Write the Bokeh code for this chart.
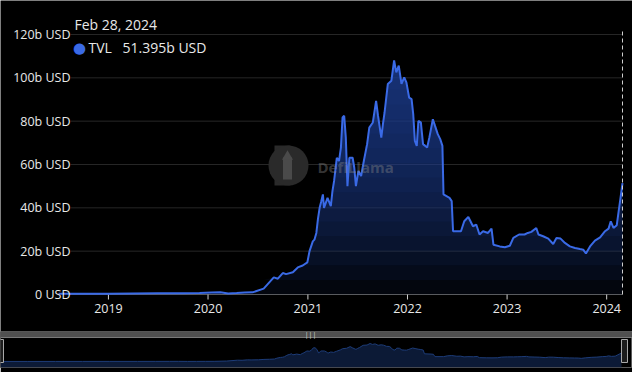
import numpy as np
import pandas as pd
from bokeh.plotting import figure
from bokeh.layouts import column
from bokeh.core.properties import value
from bokeh.models import Range1d, Label, InlineStyleSheet
from bokeh.embed import file_html
from bokeh.resources import INLINE

# ---------------- data ----------------
dates = [
    "2018-07-02", "2018-10-01", "2019-01-01", "2019-04-01", "2019-07-01", "2019-10-01", "2019-12-01",
    "2020-01-15", "2020-02-15", "2020-03-15", "2020-04-15", "2020-05-15", "2020-06-12", "2020-07-23",
    "2020-08-29", "2020-09-13", "2020-10-01", "2020-10-13", "2020-11-07", "2020-11-25", "2020-12-13",
    "2020-12-30",
    "2021-01-07", "2021-01-19", "2021-01-25", "2021-02-01", "2021-02-07", "2021-02-13", "2021-02-19",
    "2021-02-25", "2021-03-01", "2021-03-14", "2021-03-26", "2021-04-01", "2021-04-07", "2021-04-17",
    "2021-04-25", "2021-05-02", "2021-05-08", "2021-05-14", "2021-05-20", "2021-05-26", "2021-06-02",
    "2021-06-14", "2021-06-20", "2021-06-26", "2021-07-05", "2021-07-15", "2021-07-25", "2021-08-06",
    "2021-08-14", "2021-08-27", "2021-09-08", "2021-09-15", "2021-09-27", "2021-10-03", "2021-10-09",
    "2021-10-21", "2021-11-03", "2021-11-13", "2021-11-21", "2021-11-30", "2021-12-10", "2021-12-20",
    "2021-12-28",
    "2022-01-07", "2022-01-16", "2022-01-22", "2022-01-28", "2022-02-04", "2022-02-10", "2022-02-19",
    "2022-02-27", "2022-03-07", "2022-03-14", "2022-03-22", "2022-04-04", "2022-04-12", "2022-04-22",
    "2022-05-01", "2022-05-09", "2022-05-13", "2022-06-04", "2022-06-12", "2022-06-17", "2022-07-16",
    "2022-07-28", "2022-08-12", "2022-08-29", "2022-09-10", "2022-09-22", "2022-10-05", "2022-10-23",
    "2022-11-05", "2022-11-12", "2022-12-05", "2022-12-24",
    "2023-01-11", "2023-01-24", "2023-02-14", "2023-03-06", "2023-03-18", "2023-03-31", "2023-04-18",
    "2023-04-26", "2023-05-13", "2023-06-01", "2023-06-19", "2023-07-01", "2023-07-16", "2023-08-01",
    "2023-08-19", "2023-09-07", "2023-09-25", "2023-10-07", "2023-10-17", "2023-11-01", "2023-11-19",
    "2023-12-08", "2023-12-26",
    "2024-01-08", "2024-01-16", "2024-01-26", "2024-02-07", "2024-02-14", "2024-02-20", "2024-02-28",
]
tvl_billions = [
    0.3, 0.3, 0.4, 0.5, 0.6, 0.6, 0.7,
    0.9, 1.0, 0.5, 0.7, 0.9, 1.0, 2.7,
    7.9, 7.3, 9.9, 9.4, 10.3, 12.5, 13.4,
    14.8,
    20.0, 24.5, 25.3, 28.4, 35.0, 40.0, 43.0,
    46.2, 40.0, 44.6, 40.8, 47.7, 52.4, 63.1,
    61.6, 67.8, 81.7, 82.5, 72.4, 50.0, 63.1,
    63.1, 58.5, 50.0, 57.0, 54.7, 61.6, 69.4,
    77.0, 79.4, 89.4, 82.5, 72.4, 78.6, 84.0,
    97.2, 98.7, 108.0, 102.5, 105.6, 97.2, 100.2,
    97.9,
    90.9, 90.2, 83.3, 70.9, 68.6, 80.1, 79.4,
    69.4, 68.6, 67.8, 72.4, 80.9, 77.8, 74.0,
    71.7, 68.6, 46.2, 44.6, 43.1, 29.2, 29.2,
    33.8, 35.8, 31.5, 32.3, 27.7, 29.2, 28.4,
    30.4, 23.0, 22.2, 21.8,
    22.5, 26.1, 27.7, 27.7, 28.4, 28.9, 30.7,
    27.7, 26.9, 25.8, 23.3, 26.1, 25.8, 23.8,
    22.2, 21.5, 21.0, 20.7, 18.9, 22.2, 24.9,
    26.4, 29.2,
    30.4, 33.8, 30.7, 32.0, 38.5, 43.9, 51.395,
]
year_ticks = [2019, 2020, 2021, 2022, 2023, 2024]
year_labels = ["2019", "2020", "2021", "2022", "2023", "2024"]
y_tick_values = [0, 20, 40, 60, 80, 100, 120]
y_tick_labels = ["0 USD", "20b USD", "40b USD", "60b USD", "80b USD", "100b USD", "120b USD"]
tooltip_date = "Feb 28, 2024"
series_name = "TVL"
tooltip_value = "51.395b USD"
watermark = "DefiLlama"

# ---------------- styling / layout constants ----------------
FONT = "Open Sans"
LINE = "#3a6ae6"
TXT = "#e8e8e8"
W, H_MAIN = 632, 331
PX_DATA_LEFT = 58       # where the series starts in the main chart
PX_DATA_RIGHT_PAD = 10  # room to the right of the last point
PX_LABEL_RIGHT = 70     # right edge of the y tick labels / start of grid lines
PX_AXIS_LEFT = 68       # start of the x axis line
PX_ZERO = 294           # pixel row of the value 0
PX_TOP = 34             # pixel row of the value 120
PPV = (PX_ZERO - PX_TOP) / 120.0          # pixels per billion
Y_TOP = PX_ZERO / PPV                      # value at canvas top
Y_BOT = -(H_MAIN - PX_ZERO) / PPV          # value at canvas bottom
TICK_LEN = 5 / PPV
YEAR_LABEL_Y = -14 / PPV
CROSS_TOP = 121.8       # top end of the dashed cross-hair
LOGO_PX = (282, 165)    # watermark logo position (pixels)
NO_BORDER = InlineStyleSheet(css=":host { border: none !important; outline: none !important; box-shadow: none !important; }")

x = pd.to_datetime(dates)
y = np.array(tvl_billions, dtype=float)
span = x[-1] - x[0]
dpp = span / (W - PX_DATA_LEFT - PX_DATA_RIGHT_PAD)        # time per pixel
x_lo = x[0] - dpp * PX_DATA_LEFT
x_hi = x[-1] + dpp * PX_DATA_RIGHT_PAD
x_label = x_lo + dpp * PX_LABEL_RIGHT
x_axis_lo = x_lo + dpp * PX_AXIS_LEFT
year_x = pd.to_datetime([f"{yr}-01-01" for yr in year_ticks])


def px_to_x(px):
    return x_lo + dpp * px


def py_to_y(py):
    return (PX_ZERO - py) / PPV


p = figure(width=W, height=H_MAIN, x_axis_type=None,
           x_range=Range1d(x_lo, x_hi), y_range=Range1d(Y_BOT, Y_TOP),
           x_axis_location=None, y_axis_location=None,
           output_backend="svg", toolbar_location=None, tools="",
           background_fill_color="black", border_fill_color="black",
           min_border_left=0, min_border_right=0, min_border_top=0, min_border_bottom=0,
           stylesheets=[NO_BORDER])
p.outline_line_color = None
p.grid.visible = False

# horizontal grid lines (start right of the tick labels)
gy = y_tick_values[1:]
p.segment(x0=[x_label] * len(gy), y0=gy, x1=[x[-1]] * len(gy), y1=gy,
          line_color="#262626", line_width=1)

# x axis: line, ticks and year labels
p.segment(x0=[x_axis_lo], y0=[0], x1=[x[-1]], y1=[0], line_color="#5c5c5c", line_width=1)
p.segment(x0=year_x, y0=[0] * len(year_x), x1=year_x, y1=[-TICK_LEN] * len(year_x),
          line_color="#d0d0d0", line_width=1)
p.text(x=year_x, y=[YEAR_LABEL_Y] * len(year_x), text=year_labels,
       text_align="center", text_baseline="middle", text_color=TXT,
       text_font=value(FONT), text_font_size="12.5px")

# watermark logo: a "D" shape (square left part + round right part) with a lighter llama
lx, ly = LOGO_PX
p.rect(x=[px_to_x(lx)], y=[py_to_y(ly)], width=16, height=40, width_units="screen",
       height_units="screen", fill_color="#2a2a2a", line_color=None)
p.scatter(x=[px_to_x(lx + 6)], y=[py_to_y(ly)], size=40, marker="circle",
          fill_color="#2a2a2a", line_color=None)
p.rect(x=[px_to_x(lx + 5)], y=[py_to_y(ly + 3)], width=9, height=22, width_units="screen",
       height_units="screen", fill_color="#4a4a4a", line_color=None)
p.scatter(x=[px_to_x(lx + 5)], y=[py_to_y(ly - 9)], size=11, marker="triangle",
          fill_color="#4a4a4a", line_color=None)

# vertical gradient fill under the line, built from stacked translucent bands
N = 16
for lv in np.arange(N) * (y.max() / N):
    p.varea(x=x, y1=lv, y2=np.maximum(y, lv), fill_color="#2644a0", fill_alpha=0.09)

p.line(x, y, line_color=LINE, line_width=2)

# watermark text, translucent, over the chart
p.add_layout(Label(x=317, y=H_MAIN - 166, x_units="screen", y_units="screen", text=watermark,
                   text_color="#8a8a8a", text_alpha=0.4, text_font=FONT, text_font_style="bold",
                   text_font_size="15px", text_baseline="middle"))

# y tick labels
p.text(x=[x_label] * len(y_tick_values), y=y_tick_values, text=y_tick_labels,
       text_align="right", text_baseline="middle", text_color=TXT,
       text_font=value(FONT), text_font_size="12.5px")

# dashed cross-hair at the hovered (last) point
p.segment(x0=[x[-1]], y0=[0], x1=[x[-1]], y1=[CROSS_TOP], line_color="#cfcfcf",
          line_dash="4 3", line_width=1)

# tooltip texts
p.add_layout(Label(x=74, y=H_MAIN - 24, x_units="screen", y_units="screen", text=tooltip_date,
                   text_color=TXT, text_font=FONT, text_font_size="14px", text_baseline="middle"))
p.add_layout(Label(x=79, y=H_MAIN - 47, x_units="screen", y_units="screen", text="\u25cf",
                   text_color=LINE, text_font="DejaVu Sans", text_font_size="15px",
                   text_align="center", text_baseline="middle"))
p.add_layout(Label(x=88, y=H_MAIN - 47, x_units="screen", y_units="screen", text=series_name,
                   text_color=TXT, text_font=FONT, text_font_size="14px", text_baseline="middle"))
p.add_layout(Label(x=122, y=H_MAIN - 47, x_units="screen", y_units="screen", text=tooltip_value,
                   text_color=TXT, text_font=FONT, text_font_size="14px", text_baseline="middle"))

# ---------------- overview (data zoom) strip ----------------
M_LO, M_HI, BAR_LO = -36, 180, 144
mdpp = span / 621
mx_end = x[0] + mdpp * W
m = figure(width=W, height=41, x_axis_type=None,
           x_range=Range1d(x[0], mx_end), y_range=Range1d(M_LO, M_HI),
           x_axis_location=None, y_axis_location=None,
           output_backend="svg", toolbar_location=None, tools="",
           background_fill_color="black", border_fill_color="black",
           min_border_left=0, min_border_right=0, min_border_top=0, min_border_bottom=5,
           stylesheets=[NO_BORDER])
m.grid.visible = False
m.outline_line_color = "#5a5a5a"
m.quad(left=[x[0]], right=[mx_end], bottom=[BAR_LO], top=[M_HI],
       fill_color="#505050", line_color=None)
m.segment(x0=[x[0]], y0=[BAR_LO], x1=[mx_end], y1=[BAR_LO], line_color="#7a7a7a", line_width=1)
m.varea(x=x, y1=M_LO, y2=y, fill_color="#0c1a36")
m.line(x, y, line_color="#1d3c78", line_width=1)
m.rect(x=[x[0], x[-1] + mdpp * 3], y=[63, 63], width=6, height=23,
       width_units="screen", height_units="screen",
       fill_color="#1c1c1c", line_color="#a8a8a8", line_width=1)
m.add_layout(Label(x=310, y=33, x_units="screen", y_units="screen", text="|||",
                   text_color="#dddddd", text_font=FONT, text_font_size="7px",
                   text_align="center", text_baseline="middle"))

layout = column(p, m, spacing=0, stylesheets=[NO_BORDER])
open("out.html", "w").write(file_html(layout, INLINE))
